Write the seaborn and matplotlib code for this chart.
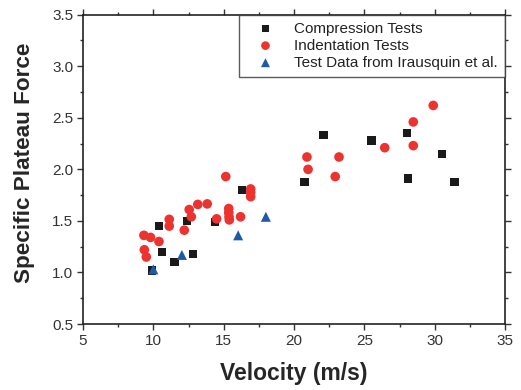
import matplotlib
matplotlib.use("Agg")
import matplotlib.pyplot as plt
import seaborn as sns
import pandas as pd
from matplotlib.ticker import MultipleLocator

comp_x = [9.9, 10.4, 10.6, 11.5, 12.4, 12.8, 14.4, 16.3, 20.75, 22.1, 25.5, 28.05, 28.1, 30.5, 31.4]
comp_y = [1.02, 1.45, 1.20, 1.10, 1.50, 1.18, 1.49, 1.80, 1.88, 2.33, 2.28, 2.35, 1.91, 2.15, 1.88]

ind_x = [9.33, 9.8, 9.36, 9.5, 10.4, 11.13, 11.13, 12.2, 12.55, 12.7, 13.16, 13.83, 14.5, 15.15,
         15.36, 15.36, 15.38, 15.4, 16.2, 16.92, 16.92, 16.92, 20.92, 21.0, 22.93, 23.2, 26.45,
         28.48, 28.48, 29.9]
ind_y = [1.36, 1.34, 1.22, 1.15, 1.30, 1.515, 1.45, 1.41, 1.61, 1.54, 1.66, 1.665, 1.52, 1.93,
         1.62, 1.58, 1.54, 1.51, 1.54, 1.81, 1.775, 1.735, 2.12, 2.00, 1.93, 2.12, 2.21,
         2.46, 2.23, 2.62]

ira_x = [10.0, 12.03, 16.03, 18.0]
ira_y = [1.03, 1.17, 1.36, 1.54]

labels = ["Compression Tests", "Indentation Tests", "Test Data from Irausquin et al."]

sns.set_style("ticks")
plt.rcParams['font.family'] = ['Liberation Sans', 'DejaVu Sans']

fig = plt.figure(figsize=(5.21, 3.90), dpi=100)
ax = fig.add_axes([83/521, 1-324/390, (505-83)/521, (324-14.7)/390])

sns.scatterplot(x=comp_x, y=comp_y, ax=ax, marker="s", s=36, color="#1a1a1a",
                edgecolor="none", label=labels[0], zorder=3)
sns.scatterplot(x=ind_x, y=ind_y, ax=ax, marker="o", s=48, color="#ec3330",
                edgecolor="none", label=labels[1], zorder=4)
sns.scatterplot(x=ira_x, y=ira_y, ax=ax, marker="^", s=52, color="#1f5aa8",
                edgecolor="none", label=labels[2], zorder=5)

ax.set_xlim(5, 35)
ax.set_ylim(0.5, 3.5)
ax.xaxis.set_major_locator(MultipleLocator(5))
ax.xaxis.set_minor_locator(MultipleLocator(2.5))
ax.yaxis.set_minor_locator(MultipleLocator(0.25))
ax.set_yticks([0.5, 1.0, 1.5, 2.0, 2.5, 3.0, 3.5])
ax.set_yticklabels(["0.5", "1.0", "1.5", "2.0", "2.5", "3.0", "3.5"])

for sp in ax.spines.values():
    sp.set_visible(True)
    sp.set_linewidth(1.2)
    sp.set_color("#222222")

ax.tick_params(which="major", direction="out", length=4, width=1, colors="#333333",
               labelsize=11, labelcolor="#333333", pad=3)
ax.tick_params(which="minor", direction="out", length=2.5, width=1, colors="#333333")
ax.tick_params(which="both", top=True, right=True)

ax.set_xlabel("Velocity (m/s)", fontsize=16.5, fontweight="bold", labelpad=10)
ax.set_ylabel("Specific Plateau Force", fontsize=16.2, fontweight="bold")
ax.yaxis.set_label_coords(-0.113, 0.522)

leg = ax.legend(loc="upper right", frameon=True, fancybox=False, fontsize=11,
                borderaxespad=0, handletextpad=0.6, borderpad=0.45, labelspacing=0.2,
                markerscale=0.9, handlelength=2.6)
leg.get_frame().set_edgecolor("#333333")
leg.get_frame().set_linewidth(1.0)
for t in leg.get_texts():
    t.set_color("#222222")

fig.savefig("out.png", dpi=100)
